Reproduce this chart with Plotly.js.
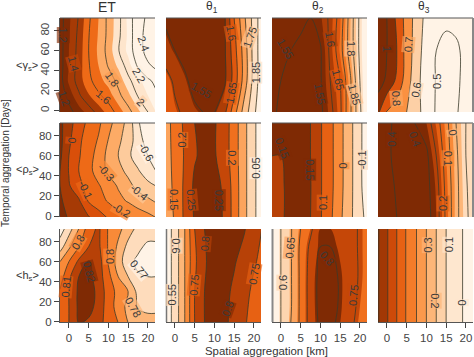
<!DOCTYPE html>
<html><head><meta charset="utf-8">
<script src="https://cdn.plot.ly/plotly-3.0.1.min.js"></script>
<style>html,body{margin:0;padding:0;background:#fff}</style></head>
<body><div id="chart" style="width:474px;height:357px"></div>
<script>
const spatialKm = [-2.25,0,2.5,5,7.5,10,12.5,15,17.5,20,22];
const days7 = [-1.5,15,30,45,60,75,93];
const days5 = [-1.5,15,45,75,93];
const days4 = [-1.5,30,60,93];
const days2 = [-1.5,93];

const etGamma = [
[1.06,1.16,1.25,1.34,1.44,1.54,1.64,1.76,1.87,2.0,2.1],
[1.12,1.24,1.38,1.49,1.58,1.65,1.77,1.87,2.01,2.1,2.17],
[1.15,1.32,1.45,1.57,1.66,1.74,1.83,1.97,2.07,2.17,2.24],
[1.15,1.3,1.45,1.59,1.7,1.81,1.92,2.05,2.22,2.36,2.45],
[1.15,1.3,1.44,1.6,1.72,1.84,1.99,2.13,2.28,2.5,2.6],
[1.15,1.29,1.43,1.595,1.71,1.83,1.97,2.12,2.3,2.5,2.6],
[1.15,1.28,1.41,1.58,1.7,1.83,1.96,2.13,2.29,2.45,2.55]];
const t1Gamma = [
[1.62,1.61,1.59,1.56,1.548,1.548,1.585,1.68,1.77,1.84,1.89],
[1.62,1.59,1.56,1.53,1.52,1.52,1.54,1.62,1.72,1.82,1.88],
[1.57,1.55,1.53,1.52,1.52,1.52,1.54,1.63,1.72,1.82,1.88],
[1.54,1.52,1.51,1.51,1.51,1.52,1.54,1.65,1.74,1.82,1.88]];
const t2Gamma = [
[1.56,1.54,1.53,1.53,1.53,1.54,1.585,1.64,1.74,1.84,1.92],
[1.56,1.55,1.54,1.53,1.53,1.545,1.6,1.65,1.74,1.85,1.92],
[1.57,1.56,1.55,1.54,1.53,1.545,1.61,1.68,1.77,1.86,1.92],
[1.57,1.56,1.56,1.56,1.55,1.57,1.61,1.67,1.77,1.86,1.92]];
const t3Gamma = [
[0.92,0.79,0.74,0.7,0.63,0.56,0.49,0.47,0.49,0.54,0.57],
[1.05,0.98,0.88,0.75,0.63,0.55,0.495,0.47,0.48,0.53,0.56],
[1.08,1.0,0.9,0.76,0.65,0.55,0.5,0.47,0.48,0.53,0.56],
[1.08,1.0,0.88,0.76,0.66,0.57,0.52,0.52,0.53,0.55,0.57]];

const etRho = [
[0.14,0.09,0.05,0.01,-0.05,-0.11,-0.15,-0.19,-0.24,-0.27,-0.3],
[0.12,0.05,0.015,-0.11,-0.16,-0.21,-0.27,-0.31,-0.35,-0.38,-0.41],
[0.1,0.01,-0.07,-0.14,-0.19,-0.25,-0.31,-0.37,-0.43,-0.47,-0.5],
[0.1,-0.005,-0.1,-0.17,-0.245,-0.32,-0.37,-0.425,-0.49,-0.56,-0.6],
[0.12,0,-0.09,-0.16,-0.24,-0.33,-0.4,-0.48,-0.55,-0.6,-0.63],
[0.13,0.02,-0.08,-0.15,-0.21,-0.305,-0.38,-0.45,-0.55,-0.65,-0.7],
[0.13,0.03,-0.04,-0.13,-0.18,-0.265,-0.35,-0.43,-0.59,-0.66,-0.7]];
const t1Rho = [
[0.125,0.155,0.21,0.255,0.27,0.27,0.245,0.18,0.115,0.06,0.02],
[0.13,0.16,0.21,0.26,0.275,0.27,0.24,0.18,0.115,0.06,0.02],
[0.13,0.165,0.205,0.245,0.265,0.255,0.225,0.175,0.115,0.06,0.02],
[0.13,0.17,0.21,0.25,0.265,0.255,0.225,0.175,0.115,0.06,0.02]];
const t2Rho = [
[0.135,0.145,0.16,0.17,0.15,0.105,0.06,0.01,-0.04,-0.08,-0.12],
[0.14,0.145,0.16,0.17,0.152,0.105,0.065,0.015,-0.035,-0.09,-0.13],
[0.15,0.15,0.16,0.17,0.15,0.105,0.065,0.015,-0.035,-0.09,-0.13],
[0.155,0.155,0.165,0.17,0.15,0.105,0.065,0.015,-0.035,-0.09,-0.13]];
const t3Rho = [
[0.355,0.375,0.4,0.44,0.45,0.44,0.35,0.18,0.03,-0.08,-0.15],
[0.36,0.37,0.41,0.45,0.45,0.43,0.34,0.17,0.03,-0.09,-0.15],
[0.36,0.385,0.42,0.44,0.44,0.42,0.3,0.15,0.02,-0.1,-0.15],
[0.36,0.385,0.415,0.42,0.395,0.35,0.24,0.13,0,-0.1,-0.15]];

const etH = [
[0.802,0.81,0.82,0.818,0.815,0.804,0.8,0.79,0.785,0.783,0.783],
[0.802,0.81,0.822,0.824,0.816,0.805,0.796,0.787,0.779,0.778,0.778],
[0.801,0.81,0.822,0.825,0.817,0.805,0.797,0.79,0.777,0.775,0.775],
[0.795,0.808,0.82,0.823,0.815,0.803,0.79,0.78,0.771,0.77,0.77],
[0.79,0.8,0.812,0.821,0.815,0.799,0.785,0.773,0.768,0.764,0.764],
[0.775,0.788,0.8,0.81,0.812,0.799,0.788,0.777,0.772,0.768,0.768],
[0.765,0.775,0.79,0.805,0.812,0.799,0.793,0.785,0.777,0.775,0.775]];
const t1H = [
[0.52,0.57,0.65,0.75,0.8,0.815,0.81,0.785,0.755,0.735,0.72],
[0.52,0.57,0.65,0.75,0.8,0.82,0.815,0.79,0.765,0.74,0.73],
[0.52,0.57,0.65,0.74,0.795,0.82,0.825,0.805,0.78,0.755,0.74],
[0.52,0.57,0.65,0.75,0.8,0.82,0.83,0.83,0.805,0.77,0.75]];
const t2H = [
[0.54,0.6,0.65,0.71,0.77,0.81,0.81,0.79,0.76,0.735,0.72],
[0.54,0.6,0.645,0.71,0.77,0.815,0.815,0.795,0.765,0.74,0.725],
[0.54,0.6,0.645,0.71,0.77,0.815,0.815,0.795,0.77,0.745,0.73],
[0.54,0.6,0.645,0.71,0.76,0.8,0.8,0.785,0.765,0.745,0.73],
[0.54,0.6,0.645,0.7,0.74,0.79,0.79,0.78,0.765,0.745,0.73]];
const t3H = [
[0.81,0.71,0.6,0.49,0.4,0.3,0.2,0.1,0.04,-0.02,-0.05],
[0.81,0.71,0.6,0.49,0.4,0.3,0.2,0.1,0.04,-0.02,-0.05]];

// contour labels: km, day, text, angle
const labelsEtGamma=[[-1,12,'1.2',70],[-1.4,76,'1.2',90],[1.25,47,'1.4',75],[8.8,14,'1.6',40],[11,32,'1.8',55],[17.75,36,'2.2',60],[18.2,9,'2',45],[19,67,'2.4',70]];
const labelsT1Gamma=[[6.7,21,'1.55',30],[14.3,78,'1.6',80],[14.3,17.5,'1.65',-80],[19,74,'1.75',-70],[20.4,38,'1.85',-90]];
const labelsT2Gamma=[[1.25,62,'1.55',60],[10,17,'1.55',80],[12.5,72,'1.6',80],[14.6,31,'1.65',75],[17.7,62,'1.8',90],[18.75,16,'1.85',75]];
const labelsT3Gamma=[[0,62,'1',90],[2.5,12,'0.8',85],[5.4,66,'0.7',-85],[7.3,21,'0.6',-80],[12.5,29,'0.5',-90]];
const labelsEtRho=[[0.7,75,'0',-85],[4.25,26,'-0.1',65],[13.2,6,'-0.2',30],[9.4,44,'-0.3',50],[17.75,24,'-0.4',40],[19.6,64,'-0.6',60]];
const labelsT1Rho=[[1.7,76,'0.2',-90],[-0.25,16,'0.15',90],[4.2,16,'0.25',85],[11.25,16,'0.25',90],[14.6,58,'0.2',90],[20.5,48,'0.05',-90]];
const labelsT2Rho=[[0.4,68,'0.15',70],[7.3,46,'0.15',90],[10.7,13,'0.1',-90],[15.7,50,'0',-90],[20.4,56,'-0.1',-90]];
const labelsT3Rho=[[1.25,77,'0.4',-90],[7.25,77,'0.4',70],[14.2,13,'0.2',-90],[15.5,58,'0.1',90],[16.8,83,'0',80]];
const labelsEtH=[[2.3,80,'0.8',-60],[-0.8,35,'0.81',-85],[5.25,50,'0.82',75],[10.25,65,'0.8',-90],[16.3,15,'0.78',60],[17.75,53,'0.77',50]];
const labelsT1H=[[0.4,76,'0.6',90],[-0.8,27,'0.55',-90],[4.8,37,'0.75',-85],[7.5,78,'0.8',-85],[13.3,13,'0.8',-70],[20,48,'0.75',-80]];
const labelsT2H=[[2.25,74,'0.65',-85],[0.4,39,'0.6',-90],[11.7,64,'0.8',50],[18.3,26,'0.75',-85]];
const labelsT3H=[[10.4,77,'0.3',-90],[15.6,77,'0.1',-90],[12.3,21,'0.2',90],[19,19,'0',-90]];

const columnTitles = ['ET','θ<sub>1</sub>','θ<sub>2</sub>','θ<sub>3</sub>'];
const rowLabels = ['&lt;γ<sub>s</sub>&gt;','&lt;ρ<sub>s</sub>&gt;','&lt;h<sub>s</sub>&gt;'];
const dayTicks = [0,20,40,60,80];
const kmTicks = [0,5,10,15,20];

const panels = [
 {z:etGamma,y:days7,labels:labelsEtGamma,lo:1.2,hi:2.4,step:0.2,darkHigh:false,shift:0.1,zHigh:2.25},
 {z:t1Gamma,y:days4,labels:labelsT1Gamma,lo:1.55,hi:1.85,step:0.05,darkHigh:false,shift:0.005},
 {z:t2Gamma,y:days4,labels:labelsT2Gamma,lo:1.55,hi:1.85,step:0.05,darkHigh:false,shift:0.025},
 {z:t3Gamma,y:days4,labels:labelsT3Gamma,lo:0.5,hi:1.0,step:0.1,darkHigh:true,zLow:0.56,shift:0},
 {z:etRho,y:days7,labels:labelsEtRho,lo:-0.6,hi:0.1,step:0.1,darkHigh:true,shift:0},
 {z:t1Rho,y:days4,labels:labelsT1Rho,lo:0.05,hi:0.25,step:0.05,darkHigh:true,shift:0},
 {z:t2Rho,y:days4,labels:labelsT2Rho,lo:-0.1,hi:0.15,step:0.05,darkHigh:true,shift:0},
 {z:t3Rho,y:days4,labels:labelsT3Rho,lo:-0.1,hi:0.4,step:0.1,darkHigh:true,shift:-0.05},
 {z:etH,y:days7,labels:labelsEtH,lo:0.77,hi:0.82,step:0.01,darkHigh:true,shift:0},
 {z:t1H,y:days4,labels:labelsT1H,lo:0.55,hi:0.8,step:0.05,darkHigh:true,shift:0},
 {z:t2H,y:days5,labels:labelsT2H,lo:0.6,hi:0.8,step:0.05,darkHigh:true,shift:-0.01},
 {z:t3H,y:days2,labels:labelsT3H,lo:0,hi:0.8,step:0.1,darkHigh:true,shift:0}
];

const W=474,H=357;
const colPx=[[60,155],[166,261],[272,367],[378,473]];
const rowPx=[[18,112],[123,217],[229,322]];
const rowRange=[[-1.5,93],[-1,92.8],[-0.3,92.7]];
const oranges=['#7f2a04','#a63a05','#d94f0a','#ee6a17','#f98a38','#fdab66','#fdcb9c','#fee5cc','#fff3e6'];
function cscale(rev){
  const c=rev?oranges.slice().reverse():oranges;
  return c.map((v,i)=>[i/(c.length-1),v]);
}
function sampleZ(p,km,day){
  const seg=(a,v)=>{let i=0;while(i<a.length-2&&a[i+1]<v)i++;return [i,Math.max(0,Math.min(1,(v-a[i])/(a[i+1]-a[i])))];};
  const [i,u]=seg(spatialKm,km),[j,w]=seg(p.y,day);
  const a=p.z[j][i]*(1-u)+p.z[j][i+1]*u,b=p.z[j+1][i]*(1-u)+p.z[j+1][i+1]*u;
  return a*(1-w)+b*w;
}
function bandColor(p,zmin,zmax,km,day){
  const lo=p.lo+p.shift,hi=p.hi+p.shift;
  const band=Math.max(-1,Math.min(Math.round((hi-lo)/p.step),Math.floor((sampleZ(p,km,day)-lo)/p.step)));
  const v=lo+(band+0.5)*p.step;
  let t=Math.min(1,Math.max(0,(v-zmin)/(zmax-zmin)));
  if(p.darkHigh)t=1-t;
  const f=t*(oranges.length-1),i=Math.min(oranges.length-2,Math.floor(f)),u=f-i;
  const hex=s=>[1,3,5].map(k=>parseInt(s.substr(k,2),16));
  const a=hex(oranges[i]),b=hex(oranges[i+1]);
  return 'rgba('+a.map((x,k)=>Math.round(x+(b[k]-x)*u)).join(',')+',0.65)';
}
const data=[],layout={width:W,height:H,margin:{l:0,r:0,t:0,b:0},paper_bgcolor:'#fff',plot_bgcolor:'#fff',showlegend:false,
  font:{family:'Liberation Sans, Arial, sans-serif',color:'#333',size:11},shapes:[],annotations:[]};
panels.forEach((p,i)=>{
  const r=Math.floor(i/4),c=i%4,n=i+1;
  const xa='x'+(n===1?'':n),ya='y'+(n===1?'':n);
  const lo=p.lo+p.shift,hi=p.hi+p.shift;
  const zmin=p.zLow!==undefined?p.zLow:lo-p.step/2, zmax=p.zHigh!==undefined?p.zHigh:hi+p.step/2;
  const shared={x:spatialKm,y:p.y,z:p.z,xaxis:xa,yaxis:ya,hoverinfo:'skip',showscale:false,type:'contour',autocontour:false};
  data.push(Object.assign({},shared,{
    colorscale:cscale(p.darkHigh),zmin,zmax,
    contours:{start:lo,end:hi,size:p.step,coloring:'fill',showlines:false},line:{width:0}}));
  data.push(Object.assign({},shared,{
    contours:{start:p.lo,end:p.hi,size:p.step,coloring:'none'},
    line:{color:'#3a3a2a',width:0.8,smoothing:1}}));
  p.labels.forEach(l=>{
    layout.annotations.push({text:l[2],x:l[0],y:l[1],xref:xa,yref:ya,showarrow:false,textangle:l[3],
      xanchor:'center',yanchor:'middle',borderpad:0,bgcolor:bandColor(p,zmin,zmax,l[0],l[1]),
      font:{size:11,color:'#3a3a3a'}});
  });
  layout['xaxis'+(n===1?'':n)]={domain:[colPx[c][0]/W,colPx[c][1]/W],range:[-2.25,21.8],anchor:ya,zeroline:false,showgrid:false,
    showticklabels:r===2,ticks:r===2?'outside':'',ticklen:5,tickwidth:1,tickcolor:'#444',tickvals:kmTicks,
    showline:r===2,linecolor:'#555',linewidth:1,tickfont:{size:11.5,color:'#444'}};
  layout['yaxis'+(n===1?'':n)]={domain:[1-rowPx[r][1]/H,1-rowPx[r][0]/H],range:rowRange[r],anchor:xa,zeroline:false,showgrid:false,
    showticklabels:c===0,ticks:c===0?'outside':'',ticklen:5,tickwidth:1,tickcolor:'#444',tickvals:dayTicks,
    showline:c===0,linecolor:'#555',linewidth:1,tickangle:r===0?-90:0,tickfont:{size:11.5,color:'#444'}};
});
const edge=(x0,y0,x1,y1,col,w)=>layout.shapes.push({type:'line',xref:'paper',yref:'paper',x0:x0/W,x1:x1/W,y0:1-y0/H,y1:1-y1/H,line:{color:col,width:w},layer:'above'});
for(let r=0;r<2;r++)for(let c=0;c<4;c++)edge(colPx[c][0],rowPx[r][0],colPx[c][1],rowPx[r][0],'#555',1);
edge(473,18,473,112,'#888',2);edge(473,123,473,217,'#888',2);
edge(166.5,229,166.5,322,'#777',1.5);edge(272.5,229,272.5,322,'#888',2);

const note=(text,xp,yp,size,angle)=>layout.annotations.push({text,x:xp/W,y:1-yp/H,xref:'paper',yref:'paper',showarrow:false,
  xanchor:'center',yanchor:'middle',font:{size,color:'#333'},textangle:angle||0});
columnTitles.forEach((t,c)=>note(t,[107,212,318,424][c],7,c===0?14:12));
rowLabels.forEach((t,r)=>note(t,27,[66,170,276][r],11));
note('Temporal aggregation [Days]',6,163,10,-90);
note('Spatial aggregation [km]',266,351,11.4);
Plotly.newPlot('chart',data,layout,{displayModeBar:false,staticPlot:true});
</script></body></html>
